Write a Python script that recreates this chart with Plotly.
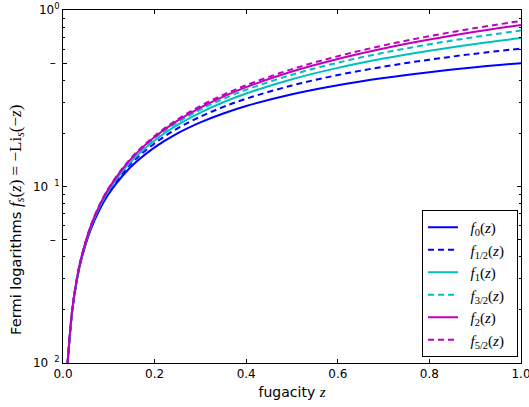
import plotly.graph_objects as go

# fugacity values
z = [0.01, 0.02, 0.03, 0.04, 0.06, 0.08, 0.1, 0.13, 0.16, 0.2, 0.25, 0.3,
     0.35, 0.4, 0.5, 0.6, 0.7, 0.8, 0.9, 1.0]

f_0 = [0.009901, 0.019608, 0.029126, 0.038462, 0.056604, 0.074074, 0.090909,
       0.115044, 0.137931, 0.166667, 0.2, 0.230769, 0.259259, 0.285714,
       0.333333, 0.375, 0.411765, 0.444444, 0.473684, 0.5]
f_1_2 = [0.0099299, 0.0197217, 0.0293788, 0.0389043, 0.057573, 0.075751,
         0.0934604, 0.1191903, 0.143976, 0.175656, 0.2132296, 0.2487526,
         0.2824119, 0.3143716, 0.3737521, 0.427862, 0.4774678, 0.5231899,
         0.5655279, 0.604899]
f_1 = [0.00995, 0.019803, 0.029559, 0.039221, 0.058269, 0.076961, 0.09531,
       0.122218, 0.14842, 0.182322, 0.223144, 0.262364, 0.300105, 0.336472,
       0.405465, 0.470004, 0.530628, 0.587787, 0.641854, 0.693147]
f_3_2 = [0.0099648, 0.0198601, 0.029687, 0.0394463, 0.0587673, 0.077831,
         0.0966453, 0.124415, 0.1516638, 0.1872223, 0.230495, 0.272541,
         0.3134368, 0.3532523, 0.4298873, 0.502887, 0.572621, 0.6394031,
         0.7035005, 0.765147]
f_2 = [0.009975, 0.019901, 0.029778, 0.039607, 0.059123, 0.078454, 0.097605,
       0.126003, 0.154018, 0.1908, 0.2359, 0.280074, 0.323371, 0.365832,
       0.448414, 0.528108, 0.605159, 0.679782, 0.752163, 0.822467]
f_5_2 = [0.0099824, 0.0199298, 0.0298426, 0.0397212, 0.0593771, 0.0789002,
         0.0982935, 0.1271451, 0.1557185, 0.1933972, 0.2398468, 0.2856057,
         0.3307035, 0.375168, 0.4622977, 0.5471803, 0.6299772, 0.710831,
         0.7898676, 0.867199]

series_names = ["<i>f</i><sub>0</sub>(<i>z</i>)", "<i>f</i><sub>1/2</sub>(<i>z</i>)",
                "<i>f</i><sub>1</sub>(<i>z</i>)", "<i>f</i><sub>3/2</sub>(<i>z</i>)",
                "<i>f</i><sub>2</sub>(<i>z</i>)", "<i>f</i><sub>5/2</sub>(<i>z</i>)"]
series_vals = [f_0, f_1_2, f_1, f_3_2, f_2, f_5_2]
colors = ["#0000ff", "#0000ff", "#00bfbf", "#00bfbf", "#bf00bf", "#bf00bf"]
dashes = ["solid", "6px,4px", "solid", "6px,4px", "solid", "6px,4px"]

x_ticks = [0.0, 0.2, 0.4, 0.6, 0.8, 1.0]
x_ticktext = ["0.0", "0.2", "0.4", "0.6", "0.8", "1.0"]
y_ticks = [0.01, 0.05, 0.1, 0.5, 1.0]
y_ticktext = ["10\u2002<sup>2</sup>", "\u2013\u00a0", "10\u2002<sup>1</sup>",
              "\u2013\u00a0", "10<sup>0</sup>"]
y_minor = [0.02, 0.03, 0.04, 0.06, 0.07, 0.08, 0.09,
           0.2, 0.3, 0.4, 0.6, 0.7, 0.8, 0.9]

pad = "\u00a0\u00a0"
fig = go.Figure()
for i, (name, vals, c, d) in enumerate(zip(series_names, series_vals, colors, dashes)):
    fig.add_trace(go.Scatter(
        x=z, y=vals, mode="lines", name=pad + name + "\u00a0\u00a0", legendgroup=str(i),
        line=dict(color=c, width=2, dash=d, shape="spline", smoothing=1.0),
    ))

serif = "Liberation Serif, DejaVu Serif, serif"
fig.update_layout(
    width=529, height=407,
    margin=dict(l=63, r=8, t=10, b=44),
    paper_bgcolor="white", plot_bgcolor="white",
    font=dict(family="DejaVu Sans", size=12, color="black"),
    showlegend=True,
    legend=dict(
        x=0.9934, y=0.017, xanchor="right", yanchor="bottom",
        bordercolor="black", borderwidth=1, bgcolor="white",
        font=dict(family=serif, size=15, color="black"),
        tracegroupgap=0,
    ),
    annotations=[dict(
        text="Fermi logarithms <span style=\"font-family:Liberation Serif;font-size:17px\"><i>f<sub>s</sub></i>(<i>z</i>) = \u2212Li<sub><i>s</i></sub>(\u2212<i>z</i>)</span>",
        xref="paper", yref="paper", x=(17 - 63) / 457, y=(363 - 220) / 353,
        xanchor="center", yanchor="middle", textangle=-90, showarrow=False,
        font=dict(family="DejaVu Sans", size=14.6, color="black"),
    )],
)
fig.update_xaxes(
    range=[0, 1], tickmode="array", tickvals=x_ticks, ticktext=x_ticktext,
    ticks="inside", ticklen=4, tickcolor="black", mirror="allticks",
    ticklabeloverflow="allow", automargin=False,
    showline=True, linecolor="black", linewidth=1, showgrid=False, zeroline=False,
    tickfont=dict(family="DejaVu Sans", size=12, color="black"),
    title=dict(text="fugacity <span style=\"font-family:Liberation Serif;font-size:15px\"><i>z</i></span>",
               font=dict(family="DejaVu Sans", size=14, color="black"), standoff=6),
)
fig.update_yaxes(
    type="log", range=[-2, 0], tickmode="array", tickvals=y_ticks, ticktext=y_ticktext,
    ticks="inside", ticklen=4, tickcolor="black", mirror="allticks", automargin=False,
    showline=True, linecolor="black", linewidth=1, showgrid=False, zeroline=False,
    tickfont=dict(family="DejaVu Sans", size=12, color="black"),
    minor=dict(tickvals=y_minor, ticks="inside", ticklen=2, tickcolor="black", showgrid=False),
)

fig.write_html("out.html")
